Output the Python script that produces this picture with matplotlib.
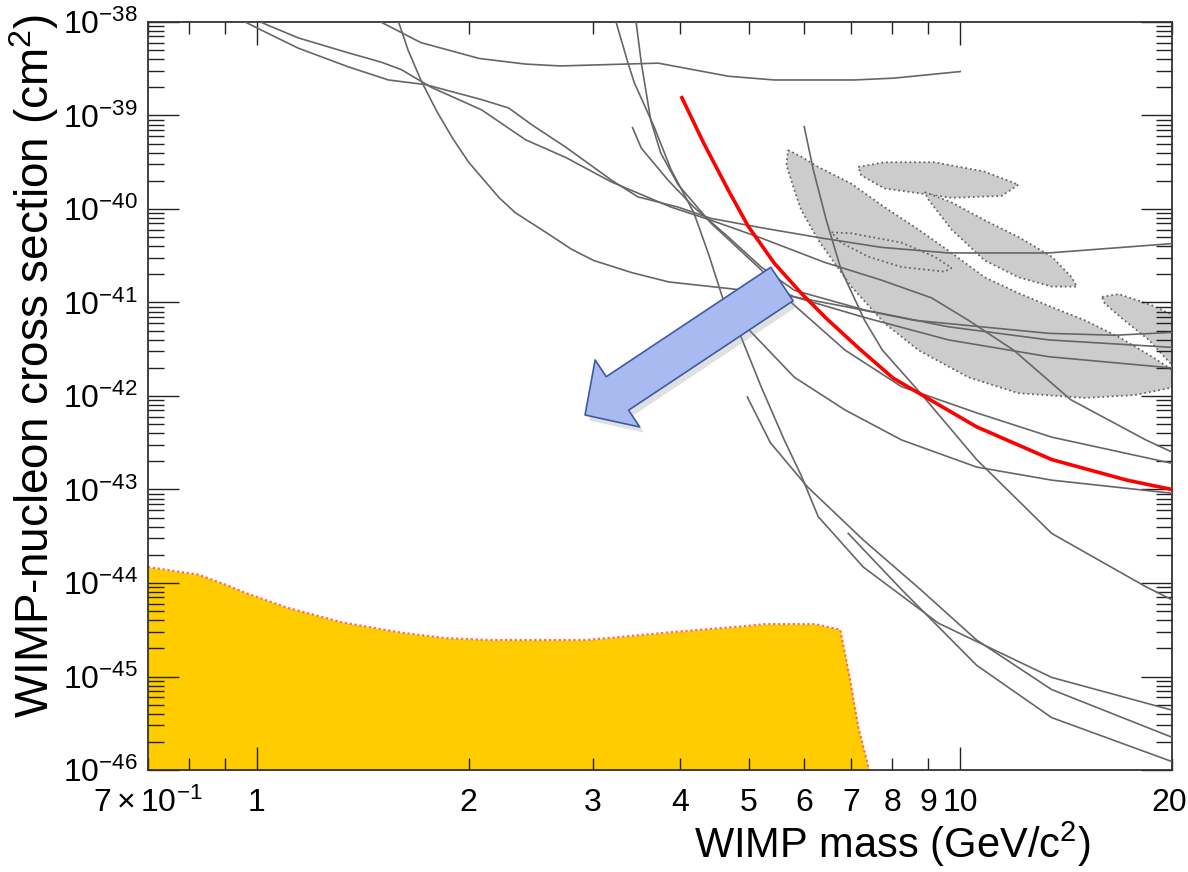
import numpy as np
import matplotlib
matplotlib.use("Agg")
import matplotlib.pyplot as plt
from matplotlib.ticker import LogLocator, NullFormatter
from matplotlib.transforms import ScaledTranslation
import matplotlib.patheffects as pe

plt.rcParams.update({
    "font.family": ["Liberation Sans", "DejaVu Sans"],
    "mathtext.fontset": "custom",
    "mathtext.rm": "Liberation Sans",
    "mathtext.it": "Liberation Sans:italic",
    "mathtext.bf": "Liberation Sans:bold",
    "mathtext.default": "regular",
})

# ---------------- data (mass in GeV/c^2, cross section as log10(cm^2)) ----------------
limA_mass = [1.50, 1.71, 2.07, 2.41, 2.70, 3.72, 4.68, 5.44, 7.07, 8.06, 10.0]
limA_logxs = [-38.00, -38.22, -38.39, -38.45, -38.47, -38.44, -38.58, -38.62, -38.62, -38.60, -38.53]

limB1_mass = [0.962, 1.004, 1.145, 1.349, 1.538, 1.737, 2.087, 2.28, 2.46, 2.75, 3.19, 3.48, 3.97,
              4.42, 5.21, 6.34, 7.72, 9.62, 13.36, 20.0]
limB1_logxs = [-38.00, -38.07, -38.28, -38.48, -38.62, -38.67, -38.83, -38.92, -39.10, -39.34, -39.69,
               -39.87, -39.98, -40.10, -40.20, -40.31, -40.41, -40.47, -40.47, -40.37]

limB2_mass = [1.011, 1.145, 1.349, 1.503, 1.605, 1.771, 2.087, 2.41, 2.75, 3.19, 3.88, 4.42, 5.21,
              6.41, 7.72, 9.10, 10.27, 11.91, 14.36, 18.36, 20.0]
limB2_logxs = [-38.00, -38.17, -38.33, -38.43, -38.51, -38.70, -38.94, -39.26, -39.45, -39.71, -39.98,
               -40.12, -40.31, -40.57, -40.76, -40.95, -41.19, -41.51, -42.04, -42.47, -42.60]

limD_mass = [1.59, 1.64, 1.71, 1.80, 1.90, 2.00, 2.21, 2.33, 2.60, 2.80, 3.01, 3.41, 3.85, 4.68, 5.21,
             5.81, 6.93, 8.60, 10.72, 13.36, 16.58, 20.0]
limD_logxs = [-38.00, -38.30, -38.62, -38.95, -39.25, -39.50, -39.88, -40.04, -40.27, -40.43, -40.55,
              -40.68, -40.78, -40.85, -40.89, -40.94, -41.05, -41.19, -41.26, -41.33, -41.35, -41.32]

limE1_mass = [3.24, 3.37, 3.44, 3.67, 3.88, 4.18, 4.39, 4.62, 4.88, 5.21, 5.62, 5.94, 6.28, 7.28,
              9.31, 13.49, 20.0]
limE1_logxs = [-38.00, -38.44, -38.65, -39.12, -39.58, -40.04, -40.49, -41.01, -41.37, -41.90, -42.47,
               -42.85, -43.29, -43.83, -44.43, -45.01, -45.36]

limE2_mass = [3.46, 3.52, 3.63, 3.75, 3.97, 4.42, 5.21, 5.69, 6.86, 8.25, 10.55, 13.49, 20.0]
limE2_logxs = [-38.00, -38.44, -39.05, -39.40, -39.74, -40.15, -40.65, -40.97, -41.51, -41.90, -42.18,
               -42.44, -42.72]

limE3_mass = [3.42, 3.52, 3.84, 4.18, 4.68, 5.21, 5.81, 7.31, 9.62, 13.36, 20.0]
limE3_logxs = [-39.13, -39.35, -39.69, -39.98, -40.30, -40.62, -40.87, -41.08, -41.26, -41.40, -41.48]

limK_mass = [5.53, 5.81, 7.31, 9.62, 13.36, 20.0]
limK_logxs = [-40.87, -40.94, -41.16, -41.40, -41.58, -41.70]

limF_mass = [6.00, 6.18, 6.45, 6.77, 7.31, 7.75, 8.78, 10.55, 13.49, 18.36, 20.0]
limF_logxs = [-39.12, -39.58, -40.12, -40.65, -41.19, -41.51, -41.97, -42.68, -43.47, -44.04, -44.18]

limG_mass = [4.65, 4.96, 5.81, 6.86, 8.25, 10.55, 13.49, 20.0]
limG_logxs = [-41.09, -41.26, -41.80, -42.15, -42.47, -42.76, -42.90, -43.04]

limH_mass = [4.98, 5.37, 6.06, 7.28, 8.78, 10.55, 13.49, 20.0]
limH_logxs = [-42.01, -42.50, -42.97, -43.54, -44.07, -44.61, -45.14, -45.65]

limI_mass = [6.93, 8.25, 10.55, 13.49, 20.0]
limI_logxs = [-43.47, -44.07, -44.88, -45.44, -45.91]

red_mass = [4.02, 4.32, 4.68, 4.99, 5.44, 5.94, 6.45, 7.20, 8.03, 10.55, 13.49, 17.26, 20.0]
red_logxs = [-38.81, -39.30, -39.80, -40.18, -40.58, -40.90, -41.17, -41.50, -41.81, -42.33, -42.68,
             -42.90, -43.00]

yellow_mass = [0.70, 0.825, 0.904, 0.959, 1.10, 1.32, 1.60, 1.86, 2.16, 2.93, 3.15, 3.96, 4.96, 5.26,
               6.22, 6.75, 6.96, 7.16, 7.43]
yellow_logxs = [-43.83, -43.91, -44.02, -44.10, -44.26, -44.42, -44.53, -44.59, -44.61, -44.61, -44.59,
                -44.52, -44.46, -44.44, -44.44, -44.50, -45.01, -45.54, -46.02]

# signal-region contours (closed)
blob_big_mass = [5.69, 5.94, 6.28, 7.00, 7.80, 8.72, 9.72, 10.83, 12.10, 13.49, 15.03, 16.81, 18.73, 20.0,
                 20.0, 17.71, 15.03, 12.10, 10.27, 8.72, 7.80, 7.00, 6.28, 5.94, 5.81, 5.66]
blob_big_logxs = [-39.37, -39.44, -39.55, -39.73, -39.98, -40.22, -40.47, -40.73, -40.90, -41.05, -41.19,
                  -41.37, -41.58, -41.72, -41.91, -41.99, -42.02, -41.97, -41.80, -41.51, -41.22, -40.83,
                  -40.33, -40.01, -39.80, -39.53]
blob_inner_mass = [6.56, 7.00, 8.25, 9.19, 9.72, 9.50, 8.25, 7.40, 6.77]
blob_inner_logxs = [-40.25, -40.26, -40.36, -40.51, -40.63, -40.67, -40.62, -40.51, -40.36]
blob_top_mass = [7.16, 7.80, 9.19, 10.83, 12.10, 11.45, 9.72, 7.80, 7.23]
blob_top_logxs = [-39.55, -39.50, -39.50, -39.60, -39.74, -39.86, -39.88, -39.78, -39.64]
blob_diag_mass = [8.90, 9.72, 10.83, 12.10, 13.49, 14.40, 14.65, 13.49, 12.10, 10.83, 9.72, 9.01]
blob_diag_logxs = [-39.82, -39.93, -40.12, -40.30, -40.51, -40.73, -40.83, -40.83, -40.73, -40.55,
                   -40.22, -39.90]
blob_right_mass = [15.90, 16.81, 18.73, 20.0, 20.0, 18.54, 16.98, 16.05]
blob_right_logxs = [-40.94, -40.91, -41.03, -41.13, -41.67, -41.40, -41.17, -41.01]

x_major = [1, 10]
x_major_labels = ["1", "10"]
x_minor = [0.7, 0.8, 0.9, 2, 3, 4, 5, 6, 7, 8, 9, 20]
x_minor_labels = [r"$7\times10^{-1}$", "", "", "2", "3", "4", "5", "6", "7", "8", "9", "20"]
y_decades = list(range(-46, -37))

# ---------------- figure ----------------
W, H = 1188, 872
fig = plt.figure(figsize=(W / 100, H / 100), dpi=100)
ax = fig.add_axes([148 / W, 102 / H, 1024 / W, 748 / H])
ax.set_xscale("log")
ax.set_yscale("log")
ax.set_xlim(0.7, 20)
ax.set_ylim(1e-46, 1e-38)

def xs(v):
    return 10.0 ** np.asarray(v)

blob_style = dict(facecolor="#CCCCCC", edgecolor="#666666", linestyle=(0, (1, 1.6)), linewidth=1.3, zorder=1)
ax.fill(blob_big_mass, xs(blob_big_logxs), **blob_style)
ax.fill(blob_inner_mass, xs(blob_inner_logxs), **blob_style)
ax.fill(blob_top_mass, xs(blob_top_logxs), **blob_style)
ax.fill(blob_diag_mass, xs(blob_diag_logxs), **blob_style)
ax.fill(blob_right_mass, xs(blob_right_logxs), **blob_style)

ax.fill_between(yellow_mass, xs(yellow_logxs), 1e-46, color="#FFCC00", lw=0, zorder=1)
ax.plot(yellow_mass, xs(yellow_logxs), color="#FF6A5A", ls=(0, (1, 1.2)), lw=1.6, zorder=2)

gray_curves = [
    (limA_mass, limA_logxs), (limB1_mass, limB1_logxs), (limB2_mass, limB2_logxs),
    (limD_mass, limD_logxs), (limE1_mass, limE1_logxs), (limE2_mass, limE2_logxs),
    (limE3_mass, limE3_logxs), (limK_mass, limK_logxs), (limF_mass, limF_logxs),
    (limG_mass, limG_logxs), (limH_mass, limH_logxs), (limI_mass, limI_logxs),
]
for m, l in gray_curves:
    ax.plot(m, xs(l), color="#666666", lw=1.2, zorder=3)

ax.plot(red_mass, xs(red_logxs), color="#FF0000", lw=2.6, zorder=4)

# annotation arrow (points toward lower masses / cross sections)
ax.annotate("", xy=(0.4268, 0.4746), xytext=(0.6191, 0.6497), xycoords="axes fraction",
            arrowprops=dict(arrowstyle="simple,head_length=28,head_width=58,tail_width=29",
                            mutation_scale=1, fc="#A8BAF0", ec="#3B5BA5", lw=1.2,
                            shrinkA=0, shrinkB=0,
                            path_effects=[pe.SimplePatchShadow(offset=(3, -4), shadow_rgbFace="#999999", alpha=0.3),
                                          pe.Normal()]),
            zorder=6)

# ticks
ax.set_xticks(x_major, labels=x_major_labels)
ax.set_xticks(x_minor, labels=x_minor_labels, minor=True)
ax.set_yticks([10.0 ** e for e in y_decades], labels=[r"$10^{%d}$" % e for e in y_decades])
ax.yaxis.set_minor_locator(LogLocator(base=10, subs=np.arange(2, 10), numticks=200))
ax.yaxis.set_minor_formatter(NullFormatter())

ax.tick_params(axis="both", which="both", direction="in", top=True, right=True, labelsize=23,
               width=1.0, color="#222222")
ax.tick_params(axis="x", which="major", length=16.6, pad=13)
ax.tick_params(axis="x", which="minor", length=8.6, pad=13)
ax.tick_params(axis="y", which="major", length=22.3, pad=7)
ax.tick_params(axis="y", which="minor", length=11.5)
for s in ax.spines.values():
    s.set_color("#333333")
    s.set_linewidth(1.3)

# keep the rightmost x label inside the canvas
for lbl in ax.get_xticklabels(minor=True):
    if lbl.get_text() == "20":
        lbl.set_ha("right")
        lbl.set_transform(lbl.get_transform() + ScaledTranslation(0.15, 0, fig.dpi_scale_trans))

ax.set_xlabel(r"WIMP mass (GeV/c$^{2}$)", fontsize=30)
ax.xaxis.label.set_ha("right")
ax.xaxis.set_label_coords((1090 - 148) / 1024, -0.066)
ax.set_ylabel(r"WIMP-nucleon cross section (cm$^{2}$)", fontsize=33)
ax.yaxis.set_label_coords(-0.085, 0.54)

fig.savefig("out.png", dpi=100)
